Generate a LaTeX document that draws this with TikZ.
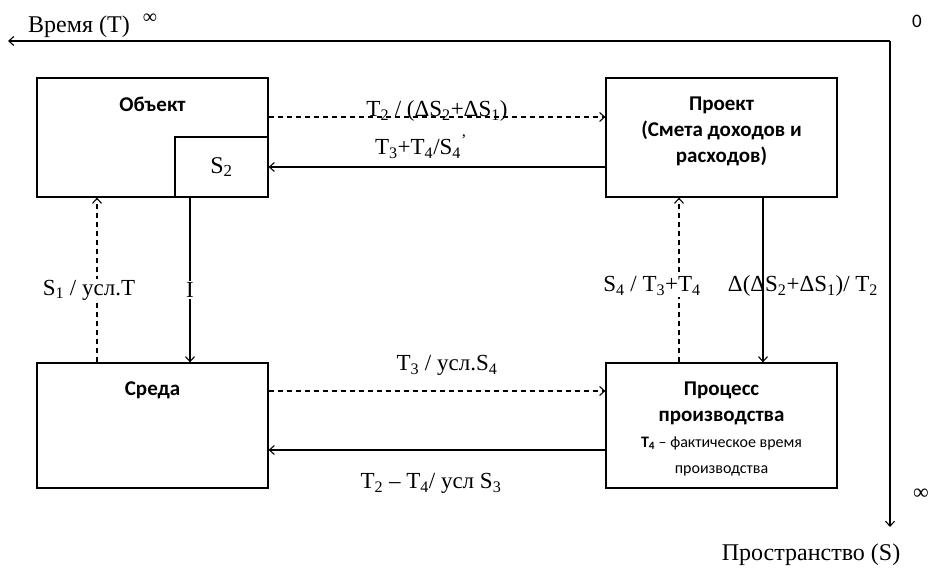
\documentclass[tikz,border=0pt]{standalone}
\usepackage{fontspec}
\setmainfont{Liberation Serif}
\newfontfamily\calibri{Carlito}
\usetikzlibrary{positioning, arrows.meta}
\newcommand{\sbs}[1]{\textsubscript{#1}}
\tikzset{
    >={Straight Barb[length=5pt, width=9pt]}, % thin open arrowheads
    node distance=288pt and 569pt, % distance between the blocks
    block/.style={draw, line width=1.2pt, minimum width=231pt, minimum height=119pt, inner sep=0pt},
    title/.style={anchor=north, inner sep=0pt, yshift=-19pt, align=center, font=\calibri\bfseries\fontsize{21}{26}\selectfont},
    flow/.style={->, line width=1.1pt},
    dashline/.style={flow, dash pattern=on 5pt off 4pt},
    lbl/.style={font=\fontsize{23}{27}\selectfont, inner sep=1pt},
    axlbl/.style={font=\fontsize{24}{28}\selectfont, inner sep=0pt},
}

\begin{document}
\begin{tikzpicture}[x=1pt, y=1pt, on grid]
    \useasboundingbox (0,0) rectangle (930,-569);
    % Axes
    \coordinate (orig) at (890,-41);
    \coordinate (tend) at (8,-41);
    \coordinate (send) at (890,-527);
    \draw[flow] (orig) -- (tend);
    \draw[flow] (orig) -- (send);
    \node[axlbl, anchor=base west] (tlabel) at (28,-33) {Время (Т)};
    \node[axlbl, font=\fontsize{20}{24}\selectfont] (tinf) at (150,-19) {∞};
    \node[inner sep=0pt, font=\calibri\fontsize{19}{22}\selectfont] (zero) at (917,-21) {0};
    \node[axlbl, anchor=west, font=\fontsize{22}{24}\selectfont] (sinf) at (913,-494) {∞};
    \node[axlbl, anchor=base] (slabel) at (811,-560) {Пространство (S)};

    % Blocks
    \node[block, label={[title]north:Объект}] (obj) at (152.5,-137.5) {};
    \node[block, label={[title]north:{Проект\\(Смета доходов и\\расходов)}}] (proj) [right=of obj] {};
    \node[block, minimum height=125pt, label={[title]north:Среда}] (env) [below=of obj] {};
    \node[block, minimum height=125pt, label={[title]north:{Процесс\\производства\\\mdseries\fontsize{16}{23}\selectfont\textbf{Т\sbs{4}} – фактическое время\\\mdseries\fontsize{16}{23}\selectfont производства}}] (proc) [right=of env] {};
    \node[draw, line width=1.2pt, minimum width=93pt, minimum height=60pt, anchor=south east, font=\fontsize{24}{28}\selectfont] (s2) at (obj.south east) {S\sbs{2}};

    % Top links
    \draw[dashline] ([yshift=20.5pt]obj.east) -- ([yshift=20.5pt]proj.west)
        node[lbl, midway, anchor=base] {T\sbs{2} / (ΔS\sbs{2}+ΔS\sbs{1})};
    \draw[flow] (proj.west |- s2.east) -- (s2.east)
        node[lbl, midway, anchor=base, yshift=12pt, xshift=-16pt] {T\sbs{3}+T\sbs{4}/S\sbs{4}\textsuperscript{'}};
    % Left links
    \draw[dashline] ([xshift=-55.5pt]env.north) -- ([xshift=-55.5pt]obj.south)
        node[lbl, midway, fill=white, xshift=-8pt, yshift=-10pt] {S\sbs{1} / усл.T};
    \draw[flow] ([xshift=-31.5pt]s2.south) -- ([xshift=-31.5pt]s2.south |- env.north)
        node[lbl, midway, fill=white, yshift=-10pt] {I};
    % Right links
    \draw[dashline] ([xshift=-42.5pt]proc.north) -- ([xshift=-42.5pt]proj.south)
        node[lbl, midway, fill=white, xshift=-27pt, yshift=-6pt] {S\sbs{4} / T\sbs{3}+T\sbs{4}};
    \draw[flow] ([xshift=41.5pt]proj.south) -- ([xshift=41.5pt]proc.north)
        node[lbl, midway, xshift=40pt, yshift=-6pt] {Δ(ΔS\sbs{2}+ΔS\sbs{1})/ T\sbs{2}};
    % Bottom links
    \draw[dashline] ([yshift=34.5pt]env.east) -- ([yshift=34.5pt]proc.west)
        node[lbl, midway, anchor=base, yshift=20pt, xshift=10pt] {T\sbs{3} / усл.S\sbs{4}};
    \draw[flow] ([yshift=-24.5pt]proc.west) -- ([yshift=-24.5pt]env.east)
        node[lbl, midway, anchor=base, yshift=-39pt, xshift=-6pt] {T\sbs{2} – T\sbs{4}/ усл S\sbs{3}};
\end{tikzpicture}
\end{document}
